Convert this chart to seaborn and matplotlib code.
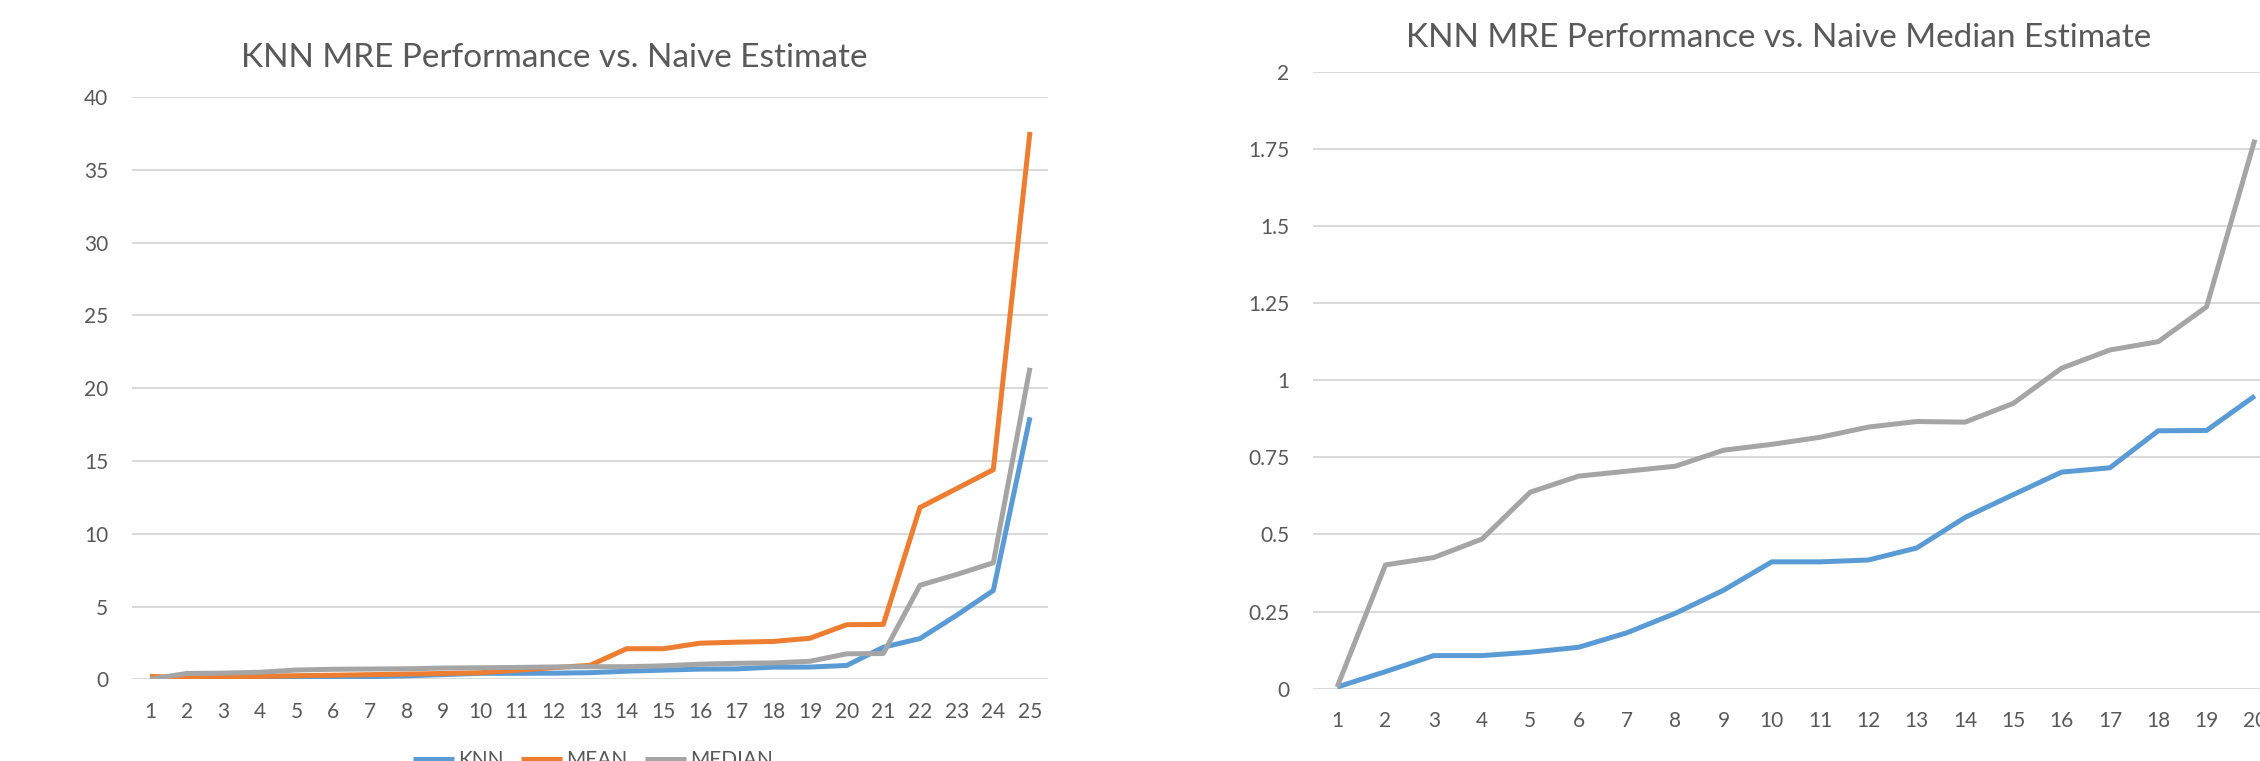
import numpy as np
import pandas as pd
import matplotlib
matplotlib.use("Agg")
import matplotlib.pyplot as plt
import seaborn as sns

# ---------------- data ----------------
left_positions = list(range(1, 26))
knn_left = [0.01, 0.055, 0.105, 0.105, 0.115, 0.135, 0.18, 0.24, 0.32, 0.41,
            0.41, 0.42, 0.455, 0.555, 0.63, 0.70, 0.715, 0.835, 0.84, 0.95,
            2.2, 2.8, 4.4, 6.1, 18.0]
mean_left = [0.2, 0.12, 0.15, 0.2, 0.25, 0.28, 0.32, 0.36, 0.4, 0.45,
             0.62, 0.8, 0.96, 2.1, 2.1, 2.48, 2.55, 2.6, 2.82, 3.75,
             3.77, 11.8, 13.1, 14.4, 37.6]
median_left = [0.005, 0.40, 0.425, 0.485, 0.637, 0.689, 0.705, 0.721, 0.773, 0.792,
               0.815, 0.848, 0.866, 0.864, 0.925, 1.039, 1.098, 1.125, 1.238, 1.75,
               1.77, 6.46, 7.2, 8.0, 21.4]

right_positions = list(range(1, 21))
knn_right = [0.005, 0.055, 0.107, 0.107, 0.118, 0.134, 0.181, 0.244, 0.319, 0.411,
             0.411, 0.417, 0.456, 0.555, 0.629, 0.702, 0.716, 0.836, 0.837, 0.949]
median_right = [0.005, 0.401, 0.425, 0.485, 0.637, 0.689, 0.705, 0.721, 0.773, 0.792,
                0.815, 0.848, 0.866, 0.864, 0.925, 1.039, 1.098, 1.125, 1.238, 1.780]

series_names = ["KNN", "MEAN", "MEDIAN"]
left_title = "KNN MRE Performance vs. Naive Estimate"
right_title = "KNN MRE Performance vs. Naive Median Estimate"
left_yticks = [0, 5, 10, 15, 20, 25, 30, 35, 40]
right_yticks = [0, 0.25, 0.5, 0.75, 1, 1.25, 1.5, 1.75, 2]
right_ytick_labels = ["0", "0.25", "0.5", "0.75", "1", "1.25", "1.5", "1.75", "2"]

palette = {"KNN": "#5B9BD5", "MEAN": "#ED7D31", "MEDIAN": "#A5A5A5"}
TEXT = "#595959"
GRID = "#D9D9D9"

df_left = pd.concat([
    pd.DataFrame({"pos": left_positions, "value": knn_left, "series": "KNN"}),
    pd.DataFrame({"pos": left_positions, "value": mean_left, "series": "MEAN"}),
    pd.DataFrame({"pos": left_positions, "value": median_left, "series": "MEDIAN"}),
], ignore_index=True)
df_right = pd.concat([
    pd.DataFrame({"pos": right_positions, "value": knn_right, "series": "KNN"}),
    pd.DataFrame({"pos": right_positions, "value": median_right, "series": "MEDIAN"}),
], ignore_index=True)

# ---------------- style ----------------
sns.set_theme(style="white")
plt.rcParams['font.family'] = ['Lato', 'DejaVu Sans']

W, H = 2260, 761
fig = plt.figure(figsize=(W / 100, H / 100), dpi=100)
fig.patch.set_facecolor("white")


def px_axes(x0, y_top, x1, y_bot):
    return fig.add_axes([x0 / W, 1 - y_bot / H, (x1 - x0) / W, (y_bot - y_top) / H])


ax1 = px_axes(131.7, 97.0, 1048.3, 679.3)
ax2 = px_axes(1313.0, 71.8, 1313.0 + 20 * 48.3, 688.6)

line_kw = dict(linewidth=3.6, solid_joinstyle="round", solid_capstyle="butt")

sns.lineplot(data=df_left, x="pos", y="value", hue="series", hue_order=series_names,
             palette=palette, ax=ax1, legend=True, **line_kw)
sns.lineplot(data=df_right, x="pos", y="value", hue="series", hue_order=["KNN", "MEDIAN"],
             palette=palette, ax=ax2, legend=False, **line_kw)

handles, labels = ax1.get_legend_handles_labels()
ax1.get_legend().remove()

for ax in (ax1, ax2):
    for s in ax.spines.values():
        s.set_visible(False)
    ax.yaxis.grid(True, color=GRID, linewidth=1.4)
    ax.xaxis.grid(False)
    ax.set_axisbelow(True)
    ax.set_xlabel("")
    ax.set_ylabel("")
    ax.tick_params(axis="both", length=0, labelsize=15, labelcolor=TEXT)
    ax.tick_params(axis="y", pad=17)
    ax.tick_params(axis="x", pad=16)

ax1.set_xlim(0.5, 25.5)
ax1.set_ylim(0, 40)
ax1.set_xticks(left_positions)
ax1.set_xticklabels([str(p) for p in left_positions])
ax1.set_yticks(left_yticks)
ax1.set_yticklabels([str(t) for t in left_yticks])

ax2.set_xlim(0.5, 20.5)
ax2.set_ylim(0, 2)
ax2.set_xticks(right_positions)
ax2.set_xticklabels([str(p) for p in right_positions])
ax2.set_yticks(right_yticks)
ax2.set_yticklabels(right_ytick_labels)

fig.text(554.6 / W, 1 - 67.0 / H, left_title, ha="center", va="baseline",
         fontsize=24, color=TEXT)
fig.text(1779 / W, 1 - 47.0 / H, right_title, ha="center", va="baseline",
         fontsize=24, color=TEXT)

fig.legend(handles, labels, loc="upper center", bbox_to_anchor=(593 / W, 1 - 750 / H),
           ncol=3, frameon=False, fontsize=15, handlelength=2.0, handletextpad=0.2,
           columnspacing=0.8, borderpad=0, borderaxespad=0, labelcolor=TEXT)

fig.savefig("out.png", dpi=100, facecolor="white")
